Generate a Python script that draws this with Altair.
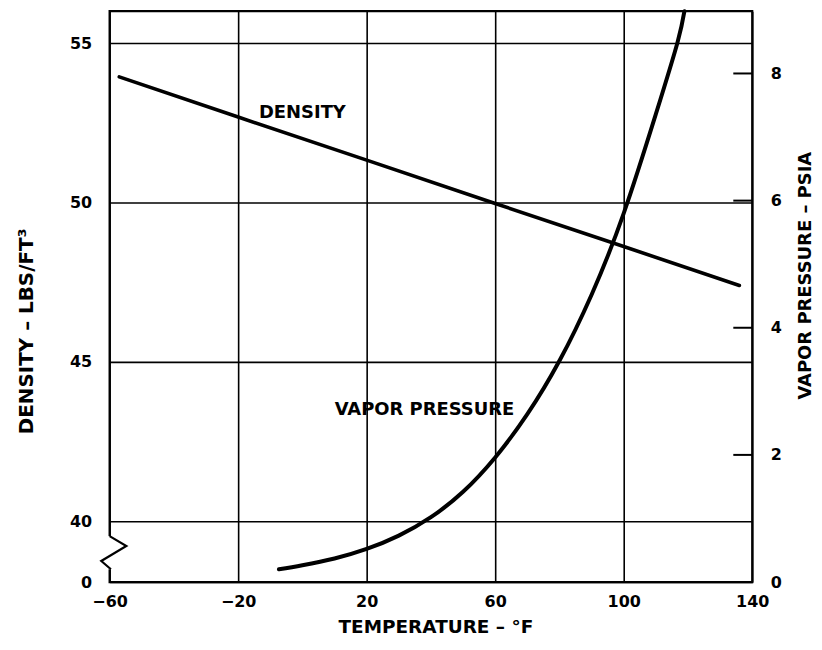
import altair as alt
import pandas as pd

# ---- data ----
density_temp = [-57, -20, 20, 60, 100, 136]
density_vals = [53.94, 52.68, 51.33, 49.97, 48.62, 47.40]

vp_temp = [-7.3, 0, 10, 20, 30, 40, 50, 60, 70, 80, 90, 100, 110, 116.7, 118.9]
vp_vals = [0.20, 0.265, 0.37, 0.52, 0.73, 1.02, 1.42, 1.96, 2.64, 3.48, 4.52, 5.80, 7.36, 8.48, 8.98]

x_ticks = [-60, -20, 20, 60, 100, 140]
density_ticks = [38.1, 40, 45, 50, 55]
vp_ticks = [0, 2, 4, 6, 8]

labels_text = ["DENSITY", "VAPOR PRESSURE"]
labels_temp = [0, 38]
labels_dens = [52.82, 43.48]

# axis break symbol (density-scale units)
break_temp = [-60, -54.8, -62.6, -59.6]
break_dens = [39.54, 39.23, 38.76, 38.5]

W, H = 645, 573
FONT = "DejaVu Sans"

dens_df = pd.DataFrame({"t": density_temp, "d": density_vals})
vp_df = pd.DataFrame({"t": vp_temp, "p": vp_vals})
lab_df = pd.DataFrame({"t": labels_temp, "d": labels_dens, "txt": labels_text})
brk_df = pd.DataFrame({"t": break_temp, "d": break_dens, "o": list(range(len(break_temp)))})
gap_df = pd.DataFrame({"d": [break_dens[0]], "d2": [break_dens[-1]]})
vtick_df = pd.DataFrame({"p": [2, 4, 6, 8]})

x_scale = alt.Scale(domain=[-60, 140], nice=False, zero=False)
x_enc = alt.X(
    "t:Q",
    scale=x_scale,
    axis=alt.Axis(
        values=x_ticks,
        title="TEMPERATURE – °F",
        grid=True,
        gridColor="black",
        gridWidth=1.6,
        gridOpacity=1,
        ticks=False,
        domain=False,
        labelPadding=12,
        labelFont=FONT,
        labelFontWeight="bold",
        labelFontSize=16,
        labelColor="black",
        labelFlush=False,
        titleFont=FONT,
        titleFontWeight="bold",
        titleFontSize=18.5,
        titleColor="black",
        titleX=327,
        titleY=45,
        titleBaseline="middle",
    ),
)

d_scale = alt.Scale(domain=[38.1, 56], nice=False, zero=False)
d_axis = alt.Axis(
    values=density_ticks,
    labelExpr="datum.value < 39 ? '0' : datum.label",
    title="DENSITY – LBS/FT³",
    grid=True,
    gridColor="black",
    gridWidth=1.6,
    gridOpacity=1,
    ticks=False,
    domain=False,
    labelPadding=18,
    labelFont=FONT,
    labelFontWeight="bold",
    labelFontSize=16,
    labelColor="black",
    titleFont=FONT,
    titleFontWeight="bold",
    titleFontSize=20,
    titleColor="black",
    titleAngle=270,
    titleX=-83,
    titleY=321,
    titleAlign="center",
    titleBaseline="middle",
)
y_d = alt.Y("d:Q", scale=d_scale, axis=d_axis)

p_scale = alt.Scale(domain=[0, 8.98], nice=False, zero=True)
p_axis = alt.Axis(
    orient="right",
    values=vp_ticks,
    title="VAPOR PRESSURE – PSIA",
    grid=False,
    ticks=False,
    domain=False,
    labelPadding=18,
    labelFont=FONT,
    labelFontWeight="bold",
    labelFontSize=16,
    labelColor="black",
    titleFont=FONT,
    titleFontWeight="bold",
    titleFontSize=18,
    titleColor="black",
    titleAngle=270,
    titleX=53,
    titleY=265,
    titleAlign="center",
    titleBaseline="middle",
)
y_p = alt.Y("p:Q", scale=p_scale, axis=p_axis)

density_line = alt.Chart(dens_df).mark_line(color="black", strokeWidth=3.6, strokeCap="round").encode(x=x_enc, y=y_d)
texts = alt.Chart(lab_df).mark_text(
    font=FONT, fontWeight="bold", fontSize=18, color="black", align="center", baseline="middle"
).encode(x=x_enc, y=y_d, text="txt:N")
gap = alt.Chart(gap_df).mark_rule(color="white", strokeWidth=5).encode(
    x=alt.value(0), y=y_d, y2="d2:Q"
)
brk = alt.Chart(brk_df).mark_line(color="black", strokeWidth=2.2).encode(
    x=x_enc, y=y_d, order="o:Q"
)
dens_layer = alt.layer(density_line, texts, gap, brk)

vp_line = alt.Chart(vp_df).mark_line(
    color="black", strokeWidth=4, strokeCap="round", interpolate="natural"
).encode(x=x_enc, y=y_p)
vticks = alt.Chart(vtick_df).mark_rule(color="black", strokeWidth=2).encode(
    x=alt.value(W - 19), x2=alt.value(W), y=y_p
)
vp_layer = alt.layer(vp_line, vticks)

chart = (
    alt.layer(dens_layer, vp_layer)
    .resolve_scale(y="independent")
    .properties(
        width=W,
        height=H,
        autosize=alt.AutoSizeParams(type="none"),
        padding={"left": 102, "top": 2, "right": 62, "bottom": 59},
        background="white",
    )
    .configure_view(stroke="black", strokeWidth=2.2)
)

chart.save("out.html", embed_options={"renderer": "svg", "actions": False})
